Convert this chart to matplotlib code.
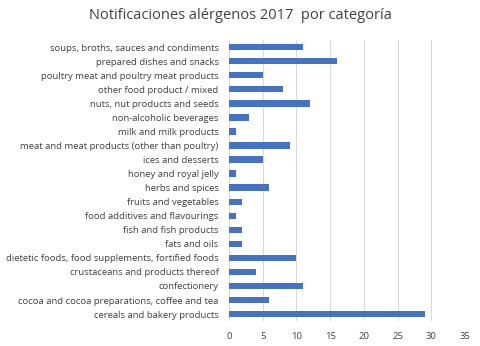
import matplotlib
matplotlib.use('Agg')
import matplotlib.pyplot as plt

# categorias (de arriba a abajo)
categorias = [
    'soups, broths, sauces and condiments',
    'prepared dishes and snacks',
    'poultry meat and poultry meat products',
    'other food product / mixed',
    'nuts, nut products and seeds',
    'non-alcoholic beverages',
    'milk and milk products',
    'meat and meat products (other than poultry)',
    'ices and desserts',
    'honey and royal jelly',
    'herbs and spices',
    'fruits and vegetables',
    'food additives and flavourings',
    'fish and fish products',
    'fats and oils',
    'dietetic foods, food supplements, fortified foods',
    'crustaceans and products thereof',
    'confectionery',
    'cocoa and cocoa preparations, coffee and tea',
    'cereals and bakery products',
]
notificaciones = [11, 16, 5, 8, 12, 3, 1, 9, 5, 1, 6, 2, 1, 2, 2, 10, 4, 11, 6, 29]
xticks = [0, 5, 10, 15, 20, 25, 30, 35]

plt.rcParams['font.family'] = ['Open Sans', 'DejaVu Sans']
gris = '#404040'

fig = plt.figure(figsize=(4.8, 3.46), dpi=100)
ax = fig.add_axes([0.477, 0.072, 0.492, 0.812])

y = list(range(len(categorias)))[::-1]
ax.barh(y, notificaciones, height=0.45, color='#4472C4', zorder=3)

ax.set_xlim(0, 35)
ax.set_ylim(-0.5, len(categorias) - 0.5)
ax.set_xticks(xticks)
ax.set_yticks(y)
ax.set_yticklabels(categorias)
ax.tick_params(axis='both', length=0, labelsize=6.8, colors=gris)
ax.tick_params(axis='x', pad=8)
ax.tick_params(axis='y', pad=7.5)
ax.grid(axis='x', color='#d9d9d9', linewidth=0.8, zorder=0)
for s in ax.spines.values():
    s.set_visible(False)

fig.text(0.5, 0.955, 'Notificaciones alérgenos 2017  por categoría',
         ha='center', va='center', fontsize=10.5, color=gris)

fig.savefig('out.png', dpi=100)
